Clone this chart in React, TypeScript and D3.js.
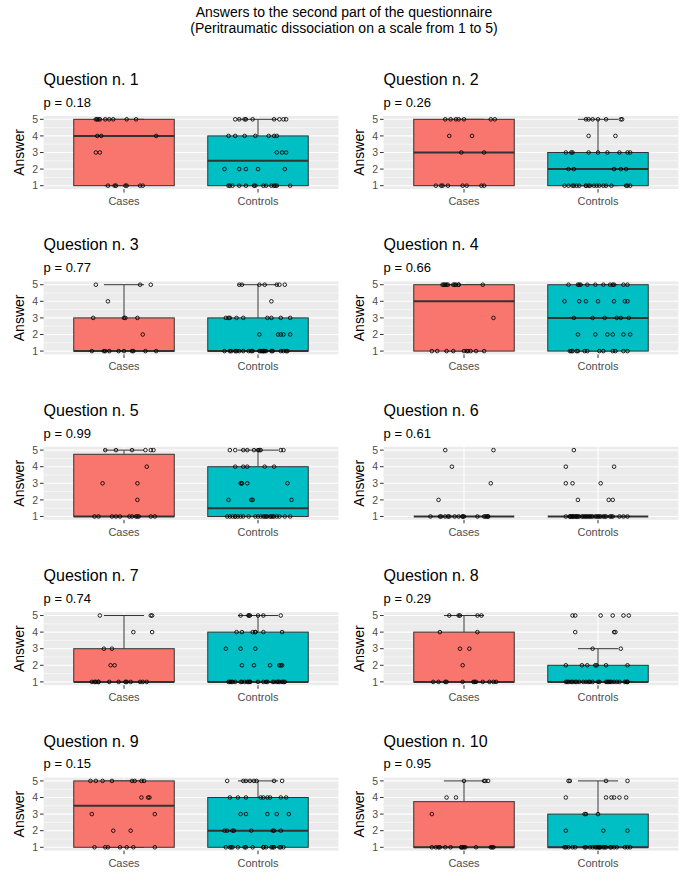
import React from "react";
import * as d3 from "d3";

type Group = [number, number[]][];

// Each entry: [answer value, jitter offsets (in category units) of the points with that answer]
const q1Cases: Group = [
  [5, [-0.21, -0.2, -0.19, -0.18, -0.14, -0.11, -0.08, 0.02, 0.09]],
  [4, [-0.2, -0.17, 0.24]],
  [3, [-0.21, -0.18]],
  [1, [-0.12, -0.07, -0.06, 0.01, 0.02, 0.12, 0.14]],
];
const q1Controls: Group = [
  [5, [-0.17, -0.14, -0.1, -0.09, -0.04, 0.12, 0.16, 0.19, 0.21]],
  [4, [-0.22, -0.17, -0.1, -0.02, 0.08, 0.12, 0.14]],
  [3, [0.14, 0.18, 0.21]],
  [2, [-0.25, -0.14, -0.09, 0.0, 0.2]],
  [1, [-0.22, -0.21, -0.19, -0.14, -0.09, -0.03, -0.02, 0.04, 0.06, 0.1, 0.12, 0.13, 0.14, 0.24]],
];
const q2Cases: Group = [
  [5, [-0.14, -0.1, -0.06, -0.04, 0.0, 0.2, 0.23]],
  [4, [-0.11, 0.06]],
  [3, [-0.02, 0.15]],
  [1, [-0.21, -0.17, -0.16, -0.12, -0.01, 0.02, 0.13, 0.15]],
];
const q2Controls: Group = [
  [5, [-0.09, -0.07, -0.04, 0.0, 0.06, 0.17, 0.18]],
  [4, [-0.07, 0.13]],
  [3, [-0.24, -0.2, -0.19, -0.07, 0.0, 0.07, 0.16, 0.22, 0.24]],
  [2, [-0.22, -0.18, 0.12, 0.17, 0.21]],
  [1, [-0.25, -0.22, -0.19, -0.18, -0.16, -0.14, -0.09, -0.09, -0.07, -0.06, -0.03, -0.01, 0.01, 0.04, 0.06, 0.1, 0.21, 0.22, 0.24]],
];
const q3Cases: Group = [
  [5, [-0.21, 0.12, 0.2]],
  [4, [-0.12]],
  [3, [-0.23, 0.0, 0.01, 0.1]],
  [2, [0.14]],
  [1, [-0.24, -0.15, -0.14, -0.11, -0.04, 0.0, 0.06, 0.07, 0.16, 0.24]],
];
const q3Controls: Group = [
  [5, [-0.14, -0.12, 0.01, 0.05, 0.14, 0.16, 0.2]],
  [4, [0.1]],
  [3, [-0.24, -0.22, -0.21, -0.16, -0.11, 0.07, 0.1, 0.17, 0.24]],
  [2, [0.01, 0.15, 0.17, 0.19, 0.24]],
  [1, [-0.25, -0.21, -0.2, -0.17, -0.16, -0.14, -0.11, -0.07, -0.05, -0.04, 0.01, 0.02, 0.03, 0.04, 0.04, 0.05, 0.06, 0.1, 0.11, 0.17, 0.19, 0.21, 0.22]],
];
const q4Cases: Group = [
  [5, [-0.16, -0.15, -0.14, -0.13, -0.12, -0.08, -0.07, -0.06, -0.04, -0.04, 0.14]],
  [3, [0.22]],
  [1, [-0.24, -0.2, -0.13, -0.08, 0.0, 0.02, 0.03, 0.05, 0.09, 0.15]],
];
const q4Controls: Group = [
  [5, [-0.22, -0.15, -0.14, -0.13, -0.08, -0.02, 0.04, 0.09, 0.11, 0.12, 0.19, 0.22]],
  [4, [-0.25, -0.14, -0.09, 0.0, 0.12, 0.2, 0.22]],
  [3, [-0.18, -0.04, 0.05, 0.14, 0.17, 0.23]],
  [2, [-0.15, -0.02, 0.07, 0.11, 0.19, 0.24]],
  [1, [-0.21, -0.2, -0.19, -0.16, -0.15, -0.1, -0.08, 0.01, 0.04, 0.11, 0.13, 0.19, 0.22]],
];
const q5Cases: Group = [
  [5, [-0.14, -0.06, 0.06, 0.16, 0.2, 0.22]],
  [4, [0.17]],
  [3, [-0.16, 0.1]],
  [2, [0.1]],
  [1, [-0.22, -0.19, -0.09, -0.06, -0.03, 0.04, 0.06, 0.09, 0.1, 0.11, 0.2, 0.23]],
];
const q5Controls: Group = [
  [5, [-0.21, -0.17, -0.11, -0.08, -0.03, 0.0, 0.01, 0.02, 0.17, 0.19]],
  [4, [-0.17, -0.11, -0.08, 0.05, 0.12]],
  [3, [-0.13, -0.12, -0.12, -0.08, 0.22]],
  [2, [-0.22, -0.05, -0.04, 0.25]],
  [1, [-0.23, -0.21, -0.19, -0.17, -0.17, -0.15, -0.13, -0.11, -0.07, -0.02, 0.0, 0.02, 0.04, 0.05, 0.06, 0.07, 0.09, 0.1, 0.11, 0.12, 0.14, 0.16, 0.2, 0.24]],
];
const q6Cases: Group = [
  [5, [-0.14, 0.22]],
  [4, [-0.09]],
  [3, [0.2]],
  [2, [-0.19]],
  [1, [-0.25, -0.18, -0.17, -0.14, -0.12, -0.11, -0.07, -0.04, -0.01, -0.01, 0.0, 0.1, 0.15, 0.16, 0.17, 0.18, 0.18]],
];
const q6Controls: Group = [
  [5, [-0.18]],
  [4, [-0.24, 0.12]],
  [3, [-0.24, -0.19, 0.02]],
  [2, [-0.15, 0.08, 0.11]],
  [1, [-0.24, -0.21, -0.21, -0.2, -0.19, -0.19, -0.18, -0.17, -0.16, -0.16, -0.15, -0.14, -0.12, -0.11, -0.1, -0.09, -0.08, -0.07, -0.06, -0.05, -0.04, -0.02, -0.01, 0.0, 0.01, 0.02, 0.04, 0.05, 0.06, 0.09, 0.1, 0.11, 0.16, 0.19, 0.22]],
];
const q7Cases: Group = [
  [5, [-0.18, 0.2, 0.21]],
  [4, [0.07, 0.21]],
  [3, [-0.15, -0.09]],
  [2, [-0.1, -0.07]],
  [1, [-0.24, -0.22, -0.21, -0.19, -0.19, -0.11, -0.04, 0.01, 0.02, 0.05, 0.12, 0.14, 0.17]],
];
const q7Controls: Group = [
  [5, [-0.13, -0.07, -0.07, -0.06, 0.0, 0.04, 0.17]],
  [4, [-0.16, -0.12, -0.04, -0.02, -0.02, 0.04, 0.18]],
  [3, [-0.24, -0.13, -0.02]],
  [2, [-0.12, -0.03, 0.09, 0.16, 0.17, 0.18]],
  [1, [-0.22, -0.21, -0.2, -0.19, -0.17, -0.13, -0.12, -0.1, -0.08, -0.07, -0.06, -0.06, 0.0, 0.04, 0.06, 0.07, 0.11, 0.12, 0.14, 0.15, 0.16, 0.18, 0.19, 0.2]],
];
const q8Cases: Group = [
  [5, [-0.11, -0.04, -0.03, 0.1, 0.13]],
  [4, [-0.18, 0.1]],
  [3, [-0.03, 0.04]],
  [2, [-0.01]],
  [1, [-0.23, -0.19, -0.14, -0.13, -0.01, 0.07, 0.08, 0.09, 0.14, 0.19, 0.22, 0.24]],
];
const q8Controls: Group = [
  [5, [-0.19, -0.17, 0.02, 0.11, 0.19, 0.23]],
  [4, [-0.17, 0.12, 0.13]],
  [3, [-0.04, 0.17]],
  [2, [-0.24, -0.12, -0.08, -0.02, -0.01, 0.06, 0.22]],
  [1, [-0.24, -0.23, -0.22, -0.2, -0.19, -0.17, -0.16, -0.14, -0.11, -0.09, -0.07, -0.06, -0.04, 0.0, 0.01, 0.06, 0.07, 0.08, 0.09, 0.1, 0.12, 0.14, 0.16, 0.2, 0.21, 0.22, 0.22]],
];
const q9Cases: Group = [
  [5, [-0.25, -0.21, -0.16, -0.09, 0.06, 0.08, 0.13, 0.15]],
  [4, [0.13, 0.18, 0.19]],
  [3, [-0.24, 0.23]],
  [2, [-0.08, 0.05]],
  [1, [-0.22, -0.14, -0.12, -0.03, 0.02, 0.07, 0.23]],
];
const q9Controls: Group = [
  [5, [-0.23, -0.11, -0.09, -0.06, -0.03, -0.01, 0.12, 0.18]],
  [4, [-0.21, -0.15, -0.09, 0.02, 0.04, 0.07, 0.09, 0.17, 0.21]],
  [3, [-0.13, -0.09, 0.07, 0.14, 0.23]],
  [2, [-0.25, -0.23, -0.19, -0.18, -0.05, 0.11, 0.12, 0.17]],
  [1, [-0.24, -0.21, -0.2, -0.19, -0.15, -0.1, -0.09, -0.04, 0.04, 0.04, 0.06, 0.1, 0.11, 0.12, 0.16, 0.17, 0.19]],
];
const q10Cases: Group = [
  [5, [0.0, 0.15, 0.16, 0.18]],
  [4, [-0.13, -0.06]],
  [3, [-0.24]],
  [1, [-0.24, -0.21, -0.19, -0.18, -0.14, -0.1, -0.02, -0.02, -0.01, 0.0, 0.01, 0.09, 0.2, 0.21, 0.22]],
];
const q10Controls: Group = [
  [5, [-0.22, -0.21, 0.06, 0.22]],
  [4, [-0.24, 0.06, 0.1, 0.12, 0.16, 0.21]],
  [3, [-0.1, -0.09, 0.0]],
  [2, [-0.24, 0.04, 0.22]],
  [1, [-0.25, -0.24, -0.22, -0.19, -0.17, -0.1, -0.09, -0.06, -0.04, -0.02, -0.01, 0.0, 0.01, 0.01, 0.02, 0.04, 0.05, 0.06, 0.09, 0.1, 0.12, 0.14, 0.2, 0.22, 0.24]],
];

const questionTitles = [
  "Question n. 1", "Question n. 2", "Question n. 3", "Question n. 4", "Question n. 5",
  "Question n. 6", "Question n. 7", "Question n. 8", "Question n. 9", "Question n. 10",
];
const pValues = ["0.18", "0.26", "0.77", "0.66", "0.99", "0.61", "0.74", "0.29", "0.15", "0.95"];
const casesData = [q1Cases, q2Cases, q3Cases, q4Cases, q5Cases, q6Cases, q7Cases, q8Cases, q9Cases, q10Cases];
const controlsData = [q1Controls, q2Controls, q3Controls, q4Controls, q5Controls, q6Controls, q7Controls, q8Controls, q9Controls, q10Controls];
const groupNames = ["Cases", "Controls"];
const groupFills = ["#F8766D", "#00BFC4"];
const yTicks = [1, 2, 3, 4, 5];
const yMinor = [1.5, 2.5, 3.5, 4.5];
const mainTitle = ["Answers to the second part of the questionnaire", "(Peritraumatic dissociation on a scale from 1 to 5)"];

const FONT = "'Liberation Sans', Arial, sans-serif";
const W = 685;
const H = 872;
const colLeft = [43.6, 383.6];
const panelW = 294.8;
const panelH = 73;
const rowTop0 = 116;
const rowStep = 165.4;

function stats(group: Group) {
  const vals: number[] = [];
  group.forEach(([v, offs]) => offs.forEach(() => vals.push(v)));
  vals.sort((a, b) => a - b);
  const q1 = d3.quantile(vals, 0.25) as number;
  const med = d3.quantile(vals, 0.5) as number;
  const q3 = d3.quantile(vals, 0.75) as number;
  const iqr = q3 - q1;
  const lo = d3.min(vals.filter((v) => v >= q1 - 1.5 * iqr)) as number;
  const hi = d3.max(vals.filter((v) => v <= q3 + 1.5 * iqr)) as number;
  return { q1, med, q3, lo, hi };
}

function Panel({ idx }: { idx: number }) {
  const col = idx % 2;
  const row = Math.floor(idx / 2);
  const left = colLeft[col];
  const top = rowTop0 + row * rowStep;
  const x = d3.scalePoint<string>().domain(groupNames).range([left, left + panelW]).padding(0.6);
  const step = x.step();
  const y = d3.scaleLinear().domain([0.8, 5.2]).range([top + panelH, top]);
  const groups = [casesData[idx], controlsData[idx]];
  const boxW = 0.75 * step;
  const capW = 0.3 * step;
  const dark = "#333333";
  return (
    <g>
      <text x={left} y={top - 31} fontSize={16} fontFamily={FONT} fill="#000">
        {questionTitles[idx]}
      </text>
      <text x={left} y={top - 9.3} fontSize={13} fontFamily={FONT} fill="#000">
        {"p = " + pValues[idx]}
      </text>
      <rect x={left} y={top} width={panelW} height={panelH} fill="#EBEBEB" />
      {yMinor.map((t) => (
        <line key={"mn" + t} x1={left} x2={left + panelW} y1={y(t)} y2={y(t)} stroke="#fff" strokeWidth={0.55} />
      ))}
      {yTicks.map((t) => (
        <line key={"mj" + t} x1={left} x2={left + panelW} y1={y(t)} y2={y(t)} stroke="#fff" strokeWidth={1.1} />
      ))}
      {groupNames.map((g) => (
        <line key={"vg" + g} x1={x(g)} x2={x(g)} y1={top} y2={top + panelH} stroke="#fff" strokeWidth={1.1} />
      ))}
      {groups.map((grp, gi) => {
        const s = stats(grp);
        const cx = x(groupNames[gi]) as number;
        return (
          <g key={"box" + gi}>
            <line x1={cx} x2={cx} y1={y(s.q3)} y2={y(s.hi)} stroke={dark} strokeWidth={1} />
            <line x1={cx} x2={cx} y1={y(s.q1)} y2={y(s.lo)} stroke={dark} strokeWidth={1} />
            <line x1={cx - capW / 2} x2={cx + capW / 2} y1={y(s.hi)} y2={y(s.hi)} stroke={dark} strokeWidth={1} />
            <line x1={cx - capW / 2} x2={cx + capW / 2} y1={y(s.lo)} y2={y(s.lo)} stroke={dark} strokeWidth={1} />
            <rect
              x={cx - boxW / 2}
              y={y(s.q3)}
              width={boxW}
              height={Math.max(0, y(s.q1) - y(s.q3))}
              fill={groupFills[gi]}
              stroke={dark}
              strokeWidth={1}
            />
            <line x1={cx - boxW / 2} x2={cx + boxW / 2} y1={y(s.med)} y2={y(s.med)} stroke={dark} strokeWidth={2} />
          </g>
        );
      })}
      {groups.map((grp, gi) => {
        const cx = x(groupNames[gi]) as number;
        return (
          <g key={"pts" + gi}>
            {grp.flatMap(([v, offs]) =>
              offs.map((o, k) => (
                <circle
                  key={v + "_" + k}
                  cx={cx + o * step}
                  cy={y(v)}
                  r={1.8}
                  fill="none"
                  stroke="#000"
                  strokeWidth={0.85}
                />
              ))
            )}
          </g>
        );
      })}
      {yTicks.map((t) => (
        <g key={"yt" + t}>
          <line x1={left - 3.6} x2={left} y1={y(t)} y2={y(t)} stroke={dark} strokeWidth={1} />
          <text x={left - 5.5} y={y(t)} dy="0.35em" textAnchor="end" fontSize={10.5} fontFamily={FONT} fill="#4D4D4D">
            {t}
          </text>
        </g>
      ))}
      {groupNames.map((g) => (
        <g key={"xt" + g}>
          <line x1={x(g)} x2={x(g)} y1={top + panelH} y2={top + panelH + 3.6} stroke={dark} strokeWidth={1} />
          <text x={x(g)} y={top + panelH + 16} textAnchor="middle" fontSize={11} fontFamily={FONT} fill="#4D4D4D">
            {g}
          </text>
        </g>
      ))}
      <text
        transform={`translate(${left - 20}, ${top + panelH / 2}) rotate(-90)`}
        textAnchor="middle"
        fontSize={14}
        fontFamily={FONT}
        fill="#000"
      >
        Answer
      </text>
    </g>
  );
}

export default function App() {
  return (
    <svg width={W} height={H} style={{ display: "block", position: "absolute", left: 0, top: 0 }}>
      <rect x={0} y={0} width={W} height={H} fill="#fff" />
      <text x={344} y={16.5} textAnchor="middle" fontSize={14} fontFamily={FONT} fill="#000">
        {mainTitle[0]}
      </text>
      <text x={344} y={32.5} textAnchor="middle" fontSize={14} fontFamily={FONT} fill="#000">
        {mainTitle[1]}
      </text>
      {questionTitles.map((_, i) => (
        <Panel key={i} idx={i} />
      ))}
    </svg>
  );
}
